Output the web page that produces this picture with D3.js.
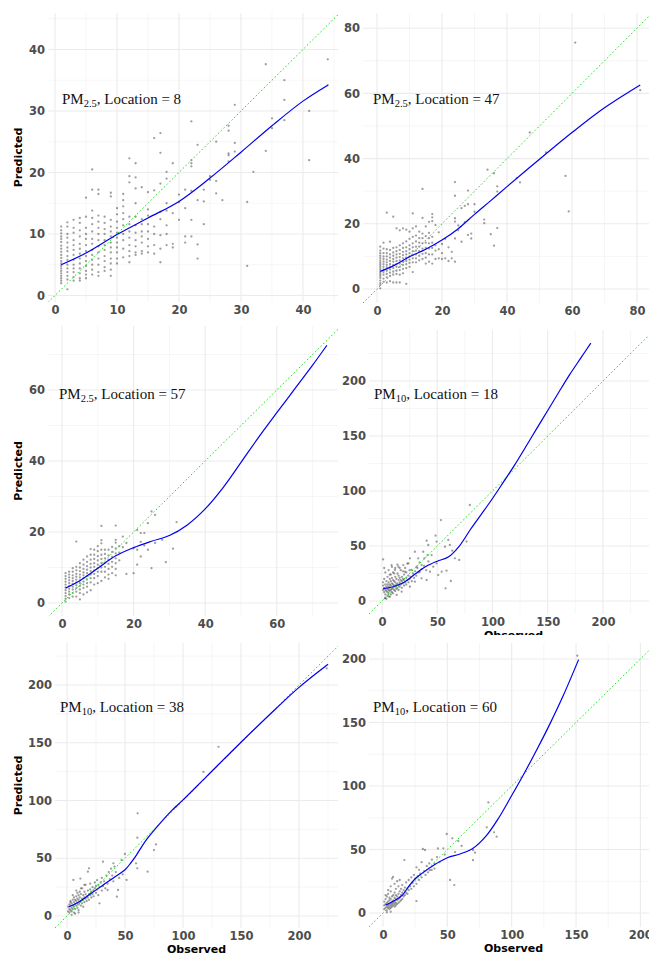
<!DOCTYPE html>
<html><head><meta charset="utf-8">
<script src="https://cdn.jsdelivr.net/npm/d3@7"></script>
<style>body{margin:0;background:#fff}svg{display:block}</style>
</head><body>
<svg id="chart" width="649" height="956"></svg>
<script>
// ---------- DATA ----------
// PM2.5, Location 8 : observed value -> predicted values
const loc8Columns = [
 [1,[11.2,10.6,10.1,9.6,9.2,8.7,8.1,7.6,7.1,6.6,6.1,5.6,5.2,4.8,4.4,4.0,3.6,3.2,2.8,2.4,2.0]],
 [2,[11.9,11.2,10.0,9.4,8.6,7.8,7.2,6.4,5.8,5.0,4.4,3.8,3.2,2.6,1.0]],
 [3,[12.3,11.0,10.2,9.0,8.2,7.4,6.6,5.8,5.0,4.4,3.8,3.0,2.4]],
 [4,[12.6,11.8,10.6,9.6,8.4,7.6,6.8,6.0,5.2,4.4,3.6,2.8,2.4]],
 [5,[15.9,12.8,11.0,10.0,9.2,8.2,7.2,6.4,5.6,4.8,4.0,3.4,2.8]],
 [6,[20.5,17.2,13.8,12.6,11.6,10.4,9.2,8.4,7.4,6.6,5.8,5.0,4.2,3.4]],
 [7,[17.2,16.5,13.0,12.0,11.0,10.0,9.0,8.0,7.0,6.0,5.0,3.8,3.2]],
 [8,[12.8,11.8,10.8,10.0,9.0,8.2,7.4,6.4,5.6,4.6,4.0]],
 [9,[16.7,16.1,12.3,11.2,10.4,9.6,8.6,7.8,7.0,6.0,5.2,4.2,3.2]],
 [10,[14.2,13.2,12.0,11.0,10.2,9.4,8.6,7.8,7.0,6.0,5.2]],
 [11,[16.5,15.5,14.5,13.4,12.4,11.4,10.0,9.0,7.6,6.2]],
 [12,[22.3,19.4,18.4,12.8,11.6,10.4,9.4,8.2,7.2,6.4,5.4]],
 [13,[21.5,19.2,17.4,15.0,12.8,11.4,10.2,9.0,8.0,7.0,6.6]],
 [14,[17.6,12.4,11.6,10.4,9.6,8.6,7.2,6.8]],
 [15,[16.8,14.0,13.0,11.6,10.4,9.2,8.0,7.0]],
 [16,[25.6,17.1,11.2,10.0,8.2,6.8]],
 [17,[26.4,23.2,18.2,13.6,12.4,9.8,7.6,5.4]],
 [18,[20.1,19.0,15.0,13.8,11.4,10.0,8.2]],
 [19,[21.5,13.4,8.4,7.8]],
 [20,[16.4,15.2,12.3]],
 [21,[17.2,14.2,9.6,8.6]],
 [22,[28.3,22.0,21.5,21.0,17.0,12.3,9.6]],
 [23,[24.5,15.5,8.3,6.0]],
 [24,[17.2,15.3,11.6]],
 [25,[19.4,18.8]],
 [26,[25.0,18.6,16.6]],
 [27,[15.5]],
 [28,[27.6,26.8,23.1,22.8,21.8]],
 [29,[31.0,24.8,23.4]],
 [31,[15.2,4.8]],
 [32,[20.1]],
 [34,[37.6,23.5]],
 [35,[28.8,27.2]],
 [37,[35.0,31.8,28.5]],
 [41,[30.0,22.0]],
 [44,[38.4,34.2]]
];
const loc8Fit = [[1,5.0],[5,6.9],[10,9.9],[15,12.6],[20,15.3],[25,19.1],[30,23.3],[35,27.6],[40,31.6],[44,34.2]];

// PM2.5, Location 47
const loc47Columns = [
 [1,[13,11.8,11,10.2,9.5,8.8,8.2,7.6,7,6.4,5.8,5.2,4.6,4,3.4,2.6,1.8,1.2,0.2]],
 [2,[14.2,12.4,11,10,9.2,8.4,7.6,6.8,6,5.2,4.4,3.2,2.2]],
 [3,[23.4,12.2,11,10,9,8.2,7.4,6.6,5.6,4.6,3.6,2]],
 [4,[14.5,12,10.6,9.6,8.6,7.6,6.8,6,5,4,2.4]],
 [5,[22.2,12.6,11.2,10.2,9.2,8.4,7.4,6.4,5.4,4.4,2]],
 [6,[18.6,12.8,11.6,10.6,9.6,8.6,7.6,6.8,5.6,4.6,2]],
 [7,[18,13.4,12,10.8,9.8,8.8,7.8,6.8,5.8,4.4,2]],
 [8,[18.6,14,12.6,11.4,10.4,9.4,8.4,7.4,6.2,4.8]],
 [9,[18.2,14.6,12.8,11.6,10.6,9.6,8.6,7.6,6.4,1.6]],
 [10,[17.6,15.4,13.4,12.2,11,10,9,8,6.8]],
 [11,[23.2,18.6,16,14,12.8,11.6,10.4,9.4,8.2,5.2]],
 [12,[19.2,16.4,14.6,13,11.8,10.6,9.4,8.2]],
 [13,[17.6,15.6,14.2,13,11.6,10.2,8.8]],
 [14,[30.7,21.8,17,15.6,14,12.4,10.8,9.2]],
 [15,[19.2,16.2,14.2,12.6,11,9.6,7.8]],
 [16,[20.6,17.2,15.6,14,12.4,10.6,8.4]],
 [17,[23,22,20.8,16,14.2,12.6,10.6,7.8]],
 [18,[19.6,13.4,11.8,9.2]],
 [19,[17.4,12.2,9.4]],
 [20,[13.8,11,9.2]],
 [21,[15.4,9.4]],
 [22,[12.8,8.6]],
 [23,[11.4,9.4]],
 [24,[32.8,28.6,21.7,20.7,15.5,8.4]],
 [25,[19.5,18]],
 [26,[24.8,14.5]],
 [27,[25.5,20.5]],
 [28,[30.2,26,16.6]],
 [29,[17,15.5]],
 [30,[26,23.7]],
 [33,[21.3,20.2]],
 [34,[36.6]],
 [35,[16.8]],
 [36,[35.5,13.3]],
 [37,[31.5,29.9,18.7]],
 [43,[34]],
 [44,[32.7]],
 [47,[48]],
 [52,[41.9]],
 [58,[34.7]],
 [59,[23.8]],
 [61,[75.6]],
 [81,[61]]
];
const loc47Fit = [[1,5.4],[5,7.1],[10,9.9],[15,12.2],[20,15],[25,18.5],[30,22.9],[35,27.1],[40,31.4],[50,39.8],[60,48],[70,55.6],[81,62.6]];

// PM2.5, Location 57
const loc57Columns = [
 [1,[8.4,7.6,6.8,6.0,5.2,4.4,3.6,2.8,2.0,1.2,0.4]],
 [2,[8.8,8.0,7.2,6.4,5.6,4.8,4.0,3.2,2.4,1.4]],
 [3,[9.8,8.8,7.8,7.0,6.2,5.4,4.6,3.8,2.8,1.8]],
 [4,[17.3,10.2,9.2,8.2,7.4,6.6,5.8,5.0,4.2,3.2,1.8]],
 [5,[11.2,10.0,9.0,8.0,7.2,6.4,5.6,4.8,3.8,2.8,1.0]],
 [6,[12.2,10.8,9.6,8.6,7.8,7.0,6.0,5.2,4.2,2.4]],
 [7,[13.1,11.6,10.4,9.4,8.4,7.6,6.6,5.6,4.6,3.0]],
 [8,[15.2,13.6,12.2,11.0,10.0,9.0,8.0,7.0,5.8,3.6]],
 [9,[15.0,13.6,12.4,11.2,10.2,9.2,8.2,7.0,5.2]],
 [10,[16.0,14.6,13.2,12.0,10.8,9.8,8.8,7.6,5.6]],
 [11,[21.7,17.7,16.8,15.0,13.6,12.4,11.2,10.0,8.8,6.2]],
 [12,[15.0,13.8,12.6,11.4,10.2,8.8,7.2]],
 [13,[15.0,13.4,12.2,11.0,9.6,8.0,6.8]],
 [14,[15.8,14.4,13.0,11.6,10.2,8.4]],
 [15,[21.8,17.8,17.0,15.4,14.0,12.6,11.2,9.6,7.8]],
 [16,[16.0,14.2,12.0]],
 [17,[18.7,15.7]],
 [18,[16.9,8.2]],
 [20,[15.4,8.4]],
 [21,[20.6,15.0,10.8]],
 [22,[19.7,17.2,13.1]],
 [23,[19.7,16.2]],
 [24,[22.5,15.0]],
 [25,[25.8,9.8]],
 [26,[24.8,16.9]],
 [28,[17.8]],
 [29,[11.5]],
 [31,[15.3]],
 [32,[22.8]]
];
const loc57Fit = [[1,4.2],[5,6.3],[10,9.8],[15,13.3],[20,15.6],[25,17.4],[30,19],[35,22],[40,26.5],[45,32.5],[50,39.6],[55,46.8],[60,53.6],[65,60.3],[70,67],[74,72.6]];

// PM10, Location 18 : [observed, predicted]
const loc18Points = [
 [1,10],[1,14],[1,17],[2,8],[2,12],[2,20],[3,6],[3,10],[3,15],[3,26],[4,9],[4,13],[4,18],[5,5],[5,8],[5,11],[5,15],[5,22],
 [6,7],[6,10],[6,13],[6,17],[6,28],[7,9],[7,12],[7,15],[7,20],[8,6],[8,10],[8,14],[8,18],[8,24],[9,8],[9,11],[9,16],[9,21],
 [10,7],[10,12],[10,15],[10,19],[10,26],[11,10],[11,14],[11,18],[12,9],[12,13],[12,17],[12,22],[13,11],[13,15],[13,20],
 [14,12],[14,16],[14,25],[15,10],[15,14],[15,19],[15,23],[16,13],[16,17],[16,21],[17,15],[17,19],[17,28],[18,12],[18,18],
 [18,22],[19,16],[19,20],[20,14],[20,19],[20,24],[21,17],[21,30],[22,15],[22,21],[22,26],[23,19],[24,17],[24,23],[25,20],
 [25,28],[26,22],[27,18],[28,25],[29,21],[30,27],[31,23],[32,30],[33,26],[34,35],[36,29],[38,32],[40,28],[42,36],[3,3],
 [4,2],[6,4],[2,30],[9,31],[12,30],[14,33],[7,24],[11,25],[16,30],[19,27],[23,34],
 [1,37.8],[53.3,73.6],[48.5,59.4],[49.4,54],[40.4,54.8],[41.9,50.9],[60,55.5],[61.4,51],[63.6,45.8],[57,49.4],[76.5,54],
 [79.5,87.3],[54,26.7],[58.4,27.6],[62.3,18.2],[57.5,11.5],[66,38.8],[69.9,37.3],[25.3,38.8],[29.8,44.8],[37.3,44.8],
 [32.8,38.8],[38.3,38.8],[41.3,41.8],[44.9,41.8],[23.8,34.2],[19.3,32.7],[14.8,31.2],[8.7,32.7],[11.7,28.2],[20.8,26.7],
 [26.8,28.2],[31.3,31.2],[35.8,32.7],[34.3,26.7],[43.4,26.7],[46.4,31.2],[49.4,34.2],[50.9,23.6],[40.4,19.1],[35.8,20.6],
 [29.8,17.6],[25.3,13],[17.8,8.5],[13.3,5.5],[7.2,3.9],[2.7,2.4]
];
const loc18Fit = [[1,11.2],[10,13],[20,17],[30,24.5],[40,31.5],[50,36.2],[60,40],[70,50],[80,65],[90,79],[100,93.2],[110,108.3],[120,123.6],[130,140],[140,156.7],[150,173.2],[160,189.8],[170,206],[180,221],[189,234.5]];

// PM10, Location 38
const loc38Points = [
 [1,4],[1,8],[2,6],[2,10],[2,3],[3,5],[3,9],[3,13],[4,7],[4,11],[4,4],[5,6],[5,9],[5,14],[5,18],[6,8],[6,12],[6,3],[7,10],
 [7,14],[7,6],[8,9],[8,13],[8,17],[8,22],[9,11],[9,7],[9,15],[10,10],[10,14],[10,18],[10,5],[11,12],[11,16],[11,21],[12,9],
 [12,13],[12,19],[13,11],[13,15],[13,24],[14,14],[14,18],[14,8],[15,12],[15,16],[15,21],[16,15],[16,19],[16,27],[17,13],
 [17,17],[18,16],[18,22],[18,38.4],[19,14],[19,19],[19,41.3],[20,18],[20,23],[20,28],[21,16],[21,21],[22,19],[22,25],[23,22],
 [23,17],[24,24],[24,29],[25,20],[25,26],[26,23],[26,31],[27,18],[27,27],[28,25],[28,11],[29,29],[30,22],[30,33],[31,26],
 [31,47],[32,30],[33,24],[34,35],[35,28],[35,22.5],[36,38],[37,32],[38,41],[39,35],[40,45.6],[40,30],[41,42.7],[42,38],
 [43,16.7],[44,22.5],[45,33],[47,48.5],[48,36],[50,53.7],[51.4,31.2],[59.5,45.6],[60.6,41.3],[60.9,88.9],[60.6,67.8],
 [76.7,62],[75,57.1],[69.5,38.4],[5.5,31.2],[11.5,32.4],[93.8,94.5],[117.6,124.8],[130.6,146.5],[223.8,214.5],[3,12],
 [6,16],[9,20],[12,24],[15,27],[4,1],[7,2],[10,3]
];
const loc38Fit = [[1.5,7.8],[10,12.1],[20,19],[30,26],[40,33],[50,40],[55,46],[60,53],[65,61],[70,68],[80,80],[90,91],[100,100.5],[120,120.5],[150,150.5],[180,179.5],[200,198],[225,218]];

// PM10, Location 60
const loc60Points = [
 [1,3],[1,6],[1,9],[2,4],[2,7],[2,11],[3,2],[3,5],[3,8],[3,13],[4,4],[4,6],[4,9],[4,15],[5,3],[5,5],[5,7],[5,10],[5,12],
 [6,4],[6,6],[6,8],[6,11],[6,17],[7,5],[7,7],[7,9],[7,13],[7,27.1],[7.8,28.4],[8,6],[8,8],[8,10],[8,14],[9,5],[9,7],[9,9],
 [9,12],[9,16],[10,6],[10,8],[10,11],[10,14],[10,19],[11,7],[11,10],[11,13],[12,8],[12,11],[12,15],[12,21],[13,9],[13,12],
 [13,17],[14,10],[14,14],[14,19],[15,11],[15,16],[15,22],[16,13],[16,18],[16.6,41.7],[17,14],[17,20],[18,16],[18,24],
 [19,19.4],[19,15],[20,18],[20,26],[21,21],[22,19],[22,28],[23,24],[24,21],[24,30],[25,27],[26,9.4],[26,23],[27,29],[28,26],
 [28,34],[29,31],[30,28],[31,50.4],[32.6,49.6],[32,33],[33,30],[34,37],[35,32],[36,39],[36.3,33.7],[37.8,33.9],[38,42],
 [40,38.9],[40,35],[42,44],[42.7,50.8],[44,40],[46.9,50.9],[48,46],[49.5,62.2],[52.1,26],[53.9,58.8],[55.4,22],[56,48],
 [58.5,56.7],[61.1,52.8],[70,49.5],[69.9,41.6],[71.5,47.5],[80.6,67.5],[81.9,87.1],[86.3,63.5],[88.3,60.1],[151,202.6],
 [2,14],[4,18],[6,21],[9,23],[11,25],[13,26],[3,0.5],[6,1],[26,36],[30,40]
];
const loc60Fit = [[2,6.2],[10,10.5],[15,14],[20,21],[25,27],[30,31],[40,38],[50,43.5],[60,46.5],[70,51],[80,60.5],[90,75],[100,92.5],[110,110.5],[120,129.5],[130,149.5],[140,171],[152,199.5]];

// tick labels
const ticksLoc8 = [0,10,20,30,40];
const ticksLoc47 = [0,20,40,60,80];
const ticksLoc57 = [0,20,40,60];
const ticksPM10 = [0,50,100,150,200];

const pollutants = ["2.5","2.5","2.5","10","10","10"];
const locations = ["8","47","57","18","38","60"];

// ---------- LAYOUT ----------
const flat = cols => cols.flatMap(([x, ys]) => ys.map(y => [x, y]));
const panels = [
 {pts: flat(loc8Columns), fit: loc8Fit, ticks: ticksLoc8, step: 5,
  cell:[0,0,341,318], plot:[48,13,338,302], xd:[-1.13,45.65], yd:[-1.06,45.93], lab:[14,90.5], yTitle:true, xTitle:false},
 {pts: flat(loc47Columns), fit: loc47Fit, ticks: ticksLoc47, step: 10,
  cell:[341,0,649,318], plot:[363,13,652,303], xd:[-4.31,84.62], yd:[-4.29,84.66], lab:[10,90.5], yTitle:false, xTitle:false},
 {pts: flat(loc57Columns), fit: loc57Fit, ticks: ticksLoc57, step: 10,
  cell:[0,318,341,632], plot:[48,326,338,616], xd:[-3.91,77.09], yd:[-3.66,78.03], lab:[11,72.5], yTitle:true, xTitle:false},
 {pts: loc18Points, fit: loc18Fit, ticks: ticksPM10, step: 25,
  cell:[341,318,649,635], plot:[369,330,658,614], xd:[-11.76,249.8], yd:[-11.82,246.4], lab:[5,68.5], yTitle:false, xTitle:true},
 {pts: loc38Points, fit: loc38Fit, ticks: ticksPM10, step: 25,
  cell:[0,632,341,956], plot:[55,643,338,928], xd:[-10.34,233.6], yd:[-10.39,236.4], lab:[5,69], yTitle:true, xTitle:true},
 {pts: loc60Points, fit: loc60Fit, ticks: ticksPM10, step: 25,
  cell:[341,635,649,956], plot:[369,643,658,927], xd:[-10.88,213.7], yd:[-11.02,212.6], lab:[4,69], yTitle:false, xTitle:true}
];

const svg = d3.select("#chart");
const defs = svg.append("defs");
const tickFont = "'DejaVu Sans', Verdana, sans-serif";

panels.forEach((p, i) => {
  const [cx0, cy0, cx1, cy1] = p.cell;
  const [L, T, R, B] = p.plot;
  defs.append("clipPath").attr("id", "cell" + i)
    .append("rect").attr("x", cx0).attr("y", cy0).attr("width", cx1 - cx0).attr("height", cy1 - cy0);
  defs.append("clipPath").attr("id", "plot" + i)
    .append("rect").attr("x", L).attr("y", T).attr("width", R - L).attr("height", B - T);

  const g = svg.append("g").attr("clip-path", `url(#cell${i})`);
  g.append("rect").attr("x", cx0).attr("y", cy0).attr("width", cx1 - cx0).attr("height", cy1 - cy0).attr("fill", "#fff");

  const x = d3.scaleLinear().domain(p.xd).range([L, R]);
  const y = d3.scaleLinear().domain(p.yd).range([B, T]);

  // grid
  const minorX = d3.range(p.step, p.xd[1], p.step * 2).filter(v => v > p.xd[0]);
  const minorY = d3.range(p.step, p.yd[1], p.step * 2).filter(v => v > p.yd[0]);
  const grid = g.append("g");
  grid.selectAll(".mx").data(minorX).join("line")
    .attr("x1", d => x(d)).attr("x2", d => x(d)).attr("y1", T).attr("y2", B)
    .attr("stroke", "#f0f0f0").attr("stroke-width", 0.6);
  grid.selectAll(".my").data(minorY).join("line")
    .attr("y1", d => y(d)).attr("y2", d => y(d)).attr("x1", L).attr("x2", R)
    .attr("stroke", "#f0f0f0").attr("stroke-width", 0.6);
  const majX = p.ticks.filter(v => v >= p.xd[0] && v <= p.xd[1]);
  const majY = p.ticks.filter(v => v >= p.yd[0] && v <= p.yd[1]);
  grid.selectAll(".Mx").data(majX).join("line")
    .attr("x1", d => x(d)).attr("x2", d => x(d)).attr("y1", T).attr("y2", B)
    .attr("stroke", "#ebebeb").attr("stroke-width", 1.1);
  grid.selectAll(".My").data(majY).join("line")
    .attr("y1", d => y(d)).attr("y2", d => y(d)).attr("x1", L).attr("x2", R)
    .attr("stroke", "#ebebeb").attr("stroke-width", 1.1);

  // axes (labels only)
  const xAxis = d3.axisBottom(x).tickValues(majX).tickSize(0).tickPadding(0).tickFormat(d3.format("d"));
  const yAxis = d3.axisLeft(y).tickValues(majY).tickSize(0).tickPadding(0).tickFormat(d3.format("d"));
  const ax = g.append("g").attr("transform", `translate(0,${B + 3})`).call(xAxis);
  const ay = g.append("g").attr("transform", `translate(${L - 3},0)`).call(yAxis);
  [ax, ay].forEach(a => {
    a.select(".domain").remove();
    a.selectAll("text").attr("fill", "#4d4d4d").style("font-family", tickFont)
      .style("font-weight", "bold").style("font-size", "11.5px");
  });
  ax.selectAll("text").attr("dy", "0.72em").attr("y", 0.5);

  const data = g.append("g").attr("clip-path", `url(#plot${i})`);
  // points
  data.selectAll("circle").data(p.pts).join("circle")
    .attr("cx", d => x(d[0])).attr("cy", d => y(d[1])).attr("r", 1.15)
    .attr("fill", "#000").attr("fill-opacity", 0.38);
  // identity line
  const lo = Math.min(p.xd[0], p.yd[0]), hi = Math.max(p.xd[1], p.yd[1]);
  data.append("line")
    .attr("x1", x(lo)).attr("y1", y(lo)).attr("x2", x(hi)).attr("y2", y(hi))
    .attr("stroke", "#22dd22").attr("stroke-width", 1).attr("stroke-dasharray", "1.6,2.2");
  // fitted curve
  data.append("path").datum(p.fit)
    .attr("d", d3.line().x(d => x(d[0])).y(d => y(d[1])).curve(d3.curveCatmullRom.alpha(0.5)))
    .attr("fill", "none").attr("stroke", "#0000ee").attr("stroke-width", 1.2);

  // label
  const t = g.append("text").attr("x", L + p.lab[0]).attr("y", T + p.lab[1])
    .style("font-family", "'Liberation Serif', 'Times New Roman', serif").style("font-size", "15px").attr("fill", "#111");
  t.append("tspan").text("PM");
  t.append("tspan").text(pollutants[i]).style("font-size", "10.5px").attr("dy", 3);
  t.append("tspan").text(", Location = " + locations[i]).attr("dy", -3);

  // titles
  if (p.yTitle) {
    g.append("text").attr("transform", `translate(22,${(T + B) / 2}) rotate(-90)`)
      .attr("text-anchor", "middle").style("font-family", tickFont).style("font-weight", "bold")
      .style("font-size", "11px").attr("fill", "#000").text("Predicted");
  }
  if (p.xTitle) {
    g.append("text").attr("x", (L + R) / 2).attr("y", B + 25).attr("text-anchor", "middle")
      .style("font-family", tickFont).style("font-weight", "bold")
      .style("font-size", "11px").attr("fill", "#000").text("Observed");
  }
});
</script>
</body></html>
